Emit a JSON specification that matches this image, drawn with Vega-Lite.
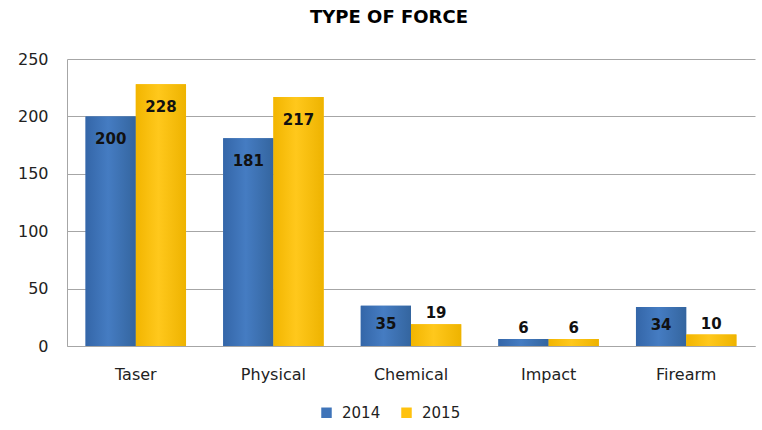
{
  "$schema": "https://vega.github.io/schema/vega-lite/v6.json",
  "width": 688,
  "height": 287,
  "autosize": {"type": "none"},
  "padding": {"left": 67, "top": 59, "right": 7, "bottom": 84},
  "background": "white",
  "title": {"text": "TYPE OF FORCE", "font": "DejaVu Sans", "fontSize": 18, "fontWeight": "bold", "color": "#000000", "anchor": "middle", "frame": "group", "offset": 24, "dx": -22},
  "data": {"values": [
    {"category": "Taser", "year": "2014", "value": 200},
    {"category": "Taser", "year": "2015", "value": 228},
    {"category": "Physical", "year": "2014", "value": 181},
    {"category": "Physical", "year": "2015", "value": 217},
    {"category": "Chemical", "year": "2014", "value": 35},
    {"category": "Chemical", "year": "2015", "value": 19},
    {"category": "Impact", "year": "2014", "value": 6},
    {"category": "Impact", "year": "2015", "value": 6},
    {"category": "Firearm", "year": "2014", "value": 34},
    {"category": "Firearm", "year": "2015", "value": 10}
  ]},
  "encoding": {
    "x": {"field": "category", "type": "nominal", "sort": ["Taser", "Physical", "Chemical", "Impact", "Firearm"],
      "scale": {"paddingInner": 0.27, "paddingOuter": 0.135},
      "axis": {"title": null, "labelAngle": 0, "labelFont": "DejaVu Sans", "labelFontSize": 16, "labelColor": "#222222", "labelPadding": 20, "ticks": false, "domainColor": "#a6a6a6", "domainWidth": 1}},
    "xOffset": {"field": "year", "type": "nominal"},
    "y": {"field": "value", "type": "quantitative", "scale": {"domain": [0, 250], "nice": false},
      "axis": {"title": null, "values": [0, 50, 100, 150, 200, 250], "labelFont": "DejaVu Sans", "labelFontSize": 16, "labelColor": "#222222", "labelPadding": 19, "ticks": false, "domainColor": "#a6a6a6", "gridColor": "#a6a6a6", "gridWidth": 1, "domainWidth": 1}}
  },
  "layer": [
    {
      "mark": {"type": "bar", "stroke": null},
      "encoding": {
        "color": {"field": "year", "type": "nominal", "scale": {"domain": ["2014", "2015"], "range": ["#3F74B9", "#FFC20E"]},
          "legend": {"title": null, "orient": "none", "legendX": 252, "legendY": 346, "direction": "horizontal", "symbolType": "square", "symbolSize": 110, "symbolStrokeWidth": 0, "labelFont": "DejaVu Sans", "labelFontSize": 15, "labelColor": "#222222", "labelOffset": 8, "columnPadding": 18}}
      }
    },
    {
      "transform": [{"filter": "datum.year == '2014'"}],
      "mark": {"type": "bar", "stroke": null, "fill": {"gradient": "linear", "x1": 0, "x2": 1, "y1": 0, "y2": 0, "stops": [{"offset": 0, "color": "#3466A8"}, {"offset": 0.45, "color": "#457CC2"}, {"offset": 1, "color": "#34659F"}]}},
      "encoding": {}
    },
    {
      "transform": [{"filter": "datum.year == '2015'"}],
      "mark": {"type": "bar", "stroke": null, "fill": {"gradient": "linear", "x1": 0, "x2": 1, "y1": 0, "y2": 0, "stops": [{"offset": 0, "color": "#F2B500"}, {"offset": 0.45, "color": "#FFC81C"}, {"offset": 1, "color": "#EEB300"}]}},
      "encoding": {}
    },
    {
      "transform": [{"filter": "datum.value >= 100"}],
      "mark": {"type": "text", "font": "DejaVu Sans", "fontSize": 15, "fontWeight": "bold", "color": "#111111", "baseline": "middle", "dy": 23},
      "encoding": {"text": {"field": "value", "type": "quantitative"}}
    },
    {
      "transform": [{"filter": "datum.value >= 30 && datum.value < 100"}],
      "mark": {"type": "text", "font": "DejaVu Sans", "fontSize": 15, "fontWeight": "bold", "color": "#111111", "baseline": "middle", "dy": 18},
      "encoding": {"text": {"field": "value", "type": "quantitative"}}
    },
    {
      "transform": [{"filter": "datum.value < 30"}],
      "mark": {"type": "text", "font": "DejaVu Sans", "fontSize": 15, "fontWeight": "bold", "color": "#111111", "baseline": "bottom", "dy": -3},
      "encoding": {"text": {"field": "value", "type": "quantitative"}}
    }
  ],
  "config": {"view": {"stroke": null}}
}
